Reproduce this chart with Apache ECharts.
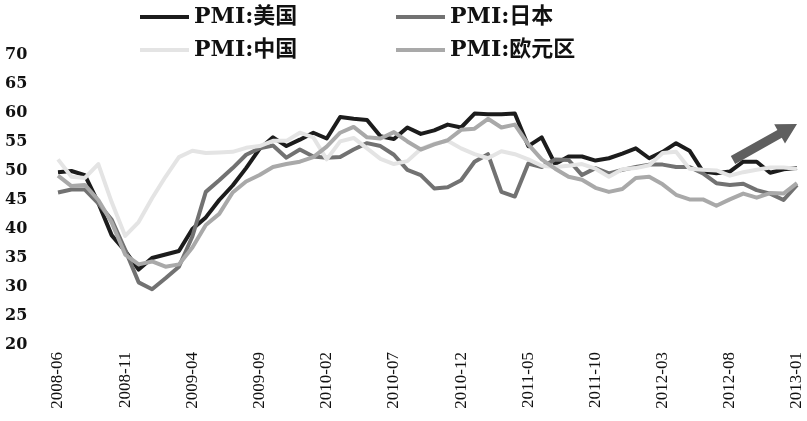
<!DOCTYPE html>
<html>
<head>
<meta charset="utf-8">
<script src="https://cdn.jsdelivr.net/npm/echarts@6/dist/echarts.min.js"></script>
<style>html,body{margin:0;padding:0;background:#fff}#c{width:807px;height:421px}</style>
</head>
<body>
<div id="c"></div>
<script>
var categories = ['2008-06','2008-07','2008-08','2008-09','2008-10','2008-11','2008-12',
'2009-01','2009-02','2009-03','2009-04','2009-05','2009-06','2009-07','2009-08','2009-09','2009-10','2009-11','2009-12',
'2010-01','2010-02','2010-03','2010-04','2010-05','2010-06','2010-07','2010-08','2010-09','2010-10','2010-11','2010-12',
'2011-01','2011-02','2011-03','2011-04','2011-05','2011-06','2011-07','2011-08','2011-09','2011-10','2011-11','2011-12',
'2012-01','2012-02','2012-03','2012-04','2012-05','2012-06','2012-07','2012-08','2012-09','2012-10','2012-11','2012-12',
'2013-01'];
var yTicks = [20,25,30,35,40,45,50,55,60,65,70];
var usPMI = [49.8,50.0,49.3,44.5,38.9,36.2,33.0,35.0,35.6,36.2,40.0,42.0,45.0,47.5,50.5,53.8,55.8,54.3,55.4,
56.6,55.6,59.3,59.0,58.8,56.0,55.5,57.5,56.4,57.0,58.0,57.5,
59.9,59.8,59.8,59.9,54.3,55.8,51.2,52.5,52.5,51.8,52.2,53.0,
53.9,52.2,53.3,54.8,53.5,49.9,49.6,49.9,51.6,51.6,49.7,50.3,50.5];
var japanPMI = [46.3,46.8,46.8,44.4,41.6,36.4,30.8,29.6,31.5,33.5,38.7,46.4,48.4,50.5,52.8,53.9,54.4,52.3,53.7,
52.5,52.3,52.4,53.7,54.8,54.3,52.8,50.2,49.3,47.0,47.2,48.4,
51.6,52.9,46.4,45.6,51.3,50.7,52.0,51.9,49.3,50.5,49.6,50.2,
50.7,51.1,51.1,50.7,50.7,49.6,47.9,47.6,47.8,46.7,46.1,45.0,47.6];
var chinaPMI = [52.0,49.0,48.8,51.2,44.6,38.8,41.2,45.3,49.0,52.4,53.5,53.1,53.2,53.3,54.0,54.3,55.2,55.2,56.6,
55.8,52.0,55.1,55.7,53.9,52.1,51.2,51.7,53.8,54.7,55.2,53.9,
52.9,52.2,53.4,52.9,52.0,50.9,50.7,50.9,51.2,50.4,49.0,50.3,
50.5,51.0,53.1,53.3,50.4,50.2,50.1,49.2,49.8,50.2,50.6,50.6,50.4];
var euroPMI = [49.2,47.4,47.6,45.0,41.1,35.6,33.9,34.4,33.5,33.9,36.8,40.7,42.6,46.3,48.2,49.3,50.7,51.2,51.6,
52.4,54.2,56.6,57.6,55.8,55.6,56.7,55.1,53.7,54.6,55.3,57.1,
57.3,59.0,57.5,58.0,54.6,52.0,50.4,49.0,48.5,47.1,46.4,46.9,
48.8,49.0,47.7,45.9,45.1,45.1,44.0,45.1,46.1,45.4,46.2,46.1,47.9];
var seriesNames = ['PMI:美国','PMI:日本','PMI:中国','PMI:欧元区'];
var seriesColors = ['#1c1c1c','#727272','#e4e4e4','#a9a9a9'];
var seriesData = [usPMI, japanPMI, chinaPMI, euroPMI];

var legendFont = {fontFamily: "'DejaVu Serif','Noto Sans CJK SC',serif", fontSize: 22, fontWeight: 'bold', color: '#111', lineHeight: 26};
var legendPos = [[140,4],[396,4],[140,37],[396,37]];
var legends = seriesNames.map(function(n,i){
  return {data:[n], left:legendPos[i][0], top:legendPos[i][1], padding:0, icon:'rect',
    itemWidth:49, itemHeight:4, textStyle:legendFont, selectedMode:false};
});

var chart = echarts.init(document.getElementById('c'));
chart.setOption({
  animation:false,
  backgroundColor:'#fff',
  legend: legends,
  grid:{left:58, right:10, top:55, bottom:76, containLabel:false},
  xAxis:{type:'category', data:categories, boundaryGap:false,
    axisLine:{show:false}, axisTick:{show:false}, splitLine:{show:false},
    axisLabel:{interval:4, rotate:90, margin:7, fontFamily:"'Liberation Serif',serif", fontSize:17, color:'#111'}},
  yAxis:{type:'value', min:yTicks[0], max:yTicks[yTicks.length-1], interval:5,
    axisLine:{show:false}, axisTick:{show:false}, splitLine:{show:false},
    axisLabel:{align:'left', margin:53, fontFamily:"'DejaVu Serif',serif", fontSize:16, fontWeight:'bold', color:'#111'}},
  series: seriesData.map(function(d,i){
    return {name:seriesNames[i], type:'line', data:d, showSymbol:false, symbol:'none',
      color:seriesColors[i], lineStyle:{width:4, color:seriesColors[i], join:'round'}};
  }),
  graphic:[{type:'polygon', shape:{points:[[735.2,163.9],[781.8,137.7],[785.0,143.4],[797,124],[774.2,124.2],[777.4,129.9],[730.8,156.1]]},
    style:{fill:'#5f5f5f'}}]
});
</script>
</body>
</html>
